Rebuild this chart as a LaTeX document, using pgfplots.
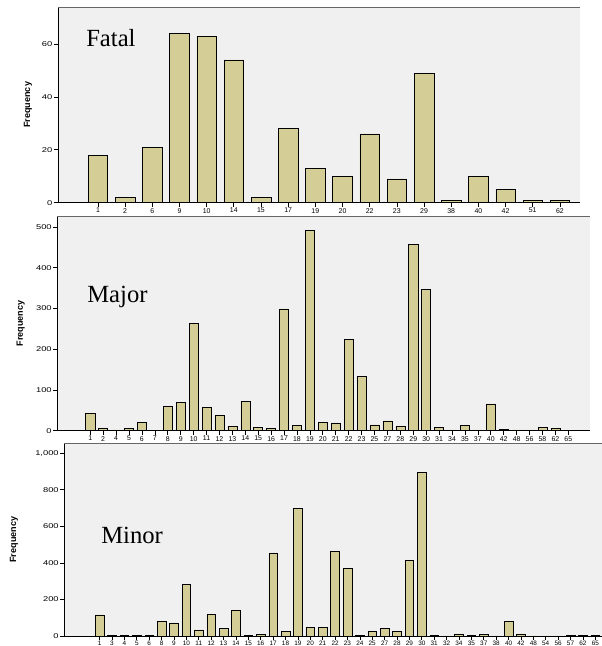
\documentclass[border=0pt]{standalone}
\usepackage{pgfplots}
\pgfplotsset{compat=1.18}
\usepackage{fontspec}
\setmainfont{Liberation Serif}
\newfontfamily\arial{Liberation Sans}
\newfontfamily\arialw[FakeStretch=1.35]{Liberation Sans}
\definecolor{barfill}{RGB}{212,206,150}
\definecolor{bgfill}{RGB}{240,240,240}
\definecolor{baredge}{RGB}{70,70,60}
\pgfplotsset{spss/.style={
  scale only axis,
  axis lines*=left,
  axis line style={black,line width=0.6pt,-},
  axis background/.style={fill=bgfill},
  ybar, bar width=0.7,
  ymin=0,
  tick align=outside,
  major tick length=3pt,
  tick style={black,line width=0.5pt},
  xticklabel style={font=\arial\fontsize{5.2}{6}\selectfont, text=black, inner sep=0.6pt, yshift=-0.3pt},
  yticklabel style={font=\arialw\fontsize{5.2}{6}\selectfont, text=black, inner sep=1pt},
  /pgf/number format/assume math mode=true,
  /pgf/number format/1000 sep={,},
  ylabel={Frequency},
  every axis y label/.style={at={(rel axis cs:0,0.5)}, rotate=90, anchor=center,
     font=\arial\bfseries\fontsize{6.8}{8}\selectfont},
  cycle list={{fill=barfill,draw=baredge,line width=0.7pt}},
  clip=false,
}}
\begin{document}
\begin{tikzpicture}
\useasboundingbox (0,0) rectangle (451.5pt,484.5pt);
% Fatal
\begin{axis}[spss,
  at={({58*0.75pt},{(646-202.7)*0.75pt})}, anchor=south west,
  width={522*0.75pt}, height={195.7*0.75pt},
  xmin=-1.47, xmax=17.74, ymax=74,
  ytick={0,20,40,60},
  xtick={0,...,17},
  xticklabels={1,2,6,9,10,14,15,17,19,20,22,23,29,38,40,42,51,62},
  ylabel style={yshift={30*0.75pt}},
  bar width=0.72]
\addplot coordinates {(0,18) (1,2) (2,21) (3,64) (4,63) (5,54) (6,2) (7,28) (8,13) (9,10) (10,26) (11,9) (12,49) (13,1) (14,10) (15,5) (16,1) (17,1)};
\draw[black!60,line width=0.6pt] (rel axis cs:0,1) -- (rel axis cs:1,1);
\end{axis}
% Major
\begin{axis}[spss,
  at={({57.3*0.75pt},{(646-430.7)*0.75pt})}, anchor=south west,
  width={532.7*0.75pt}, height={214.7*0.75pt},
  xmin=-2.55, xmax=38.68, ymax=527,
  ytick={0,100,...,500},
  xtick={0,...,37},
  xticklabels={1,2,4,5,6,7,8,9,10,11,12,13,14,15,16,17,18,19,20,21,22,23,25,27,28,29,30,31,34,35,37,40,42,48,56,58,62,65},
  ylabel style={yshift={36.6*0.75pt}}]
\addplot coordinates {(0,43) (1,7) (2,2) (3,5) (4,21) (5,1) (6,59) (7,69) (8,264) (9,57) (10,38) (11,11) (12,72) (13,8) (14,6) (15,299) (16,13) (17,492) (18,20) (19,19) (20,224) (21,134) (22,14) (23,24) (24,12) (25,457) (26,347) (27,8) (28,2) (29,13) (30,2) (31,66) (32,4) (33,2) (34,2) (35,9) (36,5) (37,1)};
\draw[black!60,line width=0.6pt] (rel axis cs:0,1) -- (rel axis cs:1,1);
\end{axis}
% Minor
\begin{axis}[spss,
  at={({64.3*0.75pt},{(646-636)*0.75pt})}, anchor=south west,
  width={537.7*0.75pt}, height={192.7*0.75pt},
  xmin=-2.85, xmax=40.54, ymax=1054,
  ytick={0,200,...,1000},
  xtick={0,...,40},
  xticklabels={1,3,4,5,6,8,9,10,11,12,13,14,15,16,17,18,19,20,21,22,23,24,25,27,28,29,30,31,32,34,35,37,38,40,42,48,54,56,57,62,65},
  xticklabel style={font=\arial\fontsize{4.8}{5}\selectfont},
  ylabel style={yshift={50.3*0.75pt}}]
\addplot coordinates {(0,116) (1,2) (2,2) (3,3) (4,3) (5,82) (6,72) (7,282) (8,33) (9,120) (10,40) (11,142) (12,3) (13,10) (14,455) (15,25) (16,698) (17,49) (18,47) (19,464) (20,369) (21,2) (22,25) (23,40) (24,27) (25,415) (26,896) (27,5) (28,1) (29,12) (30,4) (31,9) (32,1) (33,78) (34,12) (35,1) (36,1) (37,1) (38,2) (39,3) (40,3)};
\draw[black!60,line width=0.6pt] (rel axis cs:0,1) -- (rel axis cs:1,1);
\end{axis}
\node[anchor=base west,font=\fontsize{18.5}{20}\selectfont,inner sep=0pt] at ({86*0.75pt},{(646-47)*0.75pt}) {Fatal};
\node[anchor=base west,font=\fontsize{18.5}{20}\selectfont,inner sep=0pt] at ({87*0.75pt},{(646-303)*0.75pt}) {Major};
\node[anchor=base west,font=\fontsize{18.5}{20}\selectfont,inner sep=0pt] at ({101*0.75pt},{(646-544)*0.75pt}) {Minor};
\end{tikzpicture}
\end{document}
